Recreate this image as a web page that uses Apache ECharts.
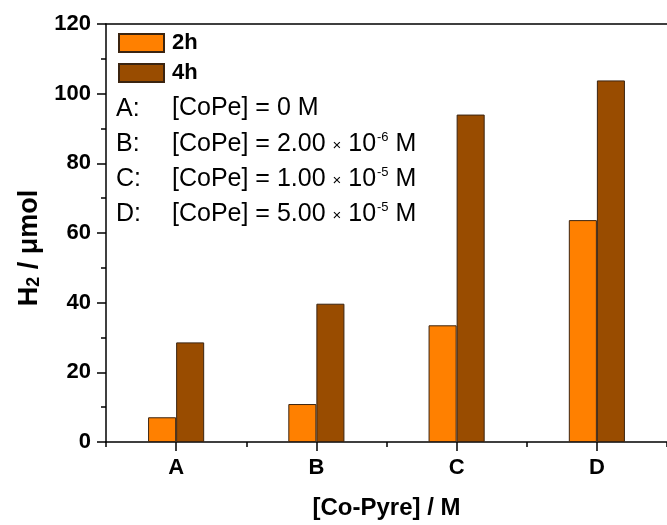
<!DOCTYPE html>
<html><head><meta charset="utf-8">
<script src="https://cdn.jsdelivr.net/npm/echarts@6/dist/echarts.min.js"></script>
<style>html,body{margin:0;padding:0;background:#fff}#c{width:667px;height:525px}</style>
</head><body><div id="c"></div>
<script>
const categories = ['A', 'B', 'C', 'D'];
const series2h = [7.1, 10.9, 33.5, 63.7];
const series4h = [28.6, 39.7, 94.0, 103.8];
const seriesNames = ['2h', '4h'];
const yMin = 0, yMax = 120, yInterval = 20;
const noteLabels = ['A:', 'B:', 'C:', 'D:'];
const noteMantissa = ['0', '2.00', '1.00', '5.00'];
const noteExponent = ['', '-6', '-5', '-5'];

const FONT = 'Liberation Sans, Arial, sans-serif';
const chart = echarts.init(document.getElementById('c'));

const graphics = [];
const lineY = [109, 144, 179, 214];
noteLabels.forEach((lab, i) => {
  graphics.push({
    type: 'text', left: 116, top: lineY[i] - 13,
    style: { text: lab, font: '25px ' + FONT, fill: '#000', lineHeight: 26 }
  });
  const txt = noteExponent[i]
    ? '{n|[CoPe] = ' + noteMantissa[i] + ' }{x|×}{n| 10}{s|' + noteExponent[i] + '}{n| M}'
    : '{n|[CoPe] = ' + noteMantissa[i] + ' M}';
  graphics.push({
    type: 'text', left: 172, top: lineY[i] - 13,
    style: {
      text: txt,
      rich: {
        n: { fontSize: 25, fontFamily: FONT, lineHeight: 26, fill: '#000', color: '#000' },
        x: { fontSize: 15, fontFamily: FONT, lineHeight: 26, fill: '#000', color: '#000', padding: [4, 0, 0, 0] },
        s: { fontSize: 13, fontFamily: FONT, lineHeight: 13, verticalAlign: 'top', fill: '#000', color: '#000', padding: [0, 0, 0, 1] }
      }
    }
  });
});

const axisLine = { show: true, lineStyle: { color: '#000', width: 1.5 } };
const tickStyle = { color: '#000', width: 1.5 };

chart.setOption({
  animation: false,
  backgroundColor: '#fff',
  grid: { left: 106, right: -9, top: 24, bottom: 82, containLabel: false },
  legend: {
    left: 118, top: 32, orient: 'vertical', itemWidth: 45, itemHeight: 18, itemGap: 8,
    padding: 0, icon: 'rect',
    textStyle: { fontSize: 22, fontWeight: 'bold', fontFamily: FONT, color: '#000', lineHeight: 22, padding: [0, 0, 0, 3] },
    data: seriesNames
  },
  xAxis: [
    {
      type: 'category', data: categories, position: 'bottom',
      axisLine: axisLine,
      axisTick: { show: true, alignWithLabel: true, length: 9, lineStyle: tickStyle },
      axisLabel: { margin: 15, fontSize: 22, fontWeight: 'bold', fontFamily: FONT, color: '#000' },
      name: '[Co-Pyre] / M', nameLocation: 'middle', nameGap: 54,
      nameTextStyle: { fontSize: 24, fontWeight: 'bold', fontFamily: FONT, color: '#000' }
    },
    {
      type: 'category', data: categories, position: 'bottom',
      axisLine: { show: false },
      axisTick: { show: true, length: 5, lineStyle: tickStyle },
      axisLabel: { show: false }
    },
    {
      type: 'category', data: categories, position: 'top',
      axisLine: axisLine, axisTick: { show: false }, axisLabel: { show: false }
    }
  ],
  yAxis: {
    type: 'value', min: yMin, max: yMax, interval: yInterval,
    axisLine: axisLine,
    axisTick: { show: true, length: 9, lineStyle: tickStyle },
    minorTick: { show: true, splitNumber: 2, length: 5, lineStyle: tickStyle },
    splitLine: { show: false },
    axisLabel: { margin: 15, fontSize: 22, fontWeight: 'bold', fontFamily: FONT, color: '#000' },
    name: '{b|H}{s|2}{b| / μmol}', nameLocation: 'middle', nameGap: 60, nameRotate: 90,
    nameTextStyle: {
      padding: [0, 30, 0, 0],
      rich: {
        b: { fontSize: 27, fontWeight: 'bold', fontFamily: FONT, color: '#000', lineHeight: 28 },
        s: { fontSize: 18, fontWeight: 'bold', fontFamily: FONT, color: '#000', lineHeight: 28, verticalAlign: 'bottom' }
      }
    }
  },
  series: [
    {
      name: seriesNames[0], type: 'bar', data: series2h, barWidth: '20%', barGap: '0%', xAxisIndex: 0,
      itemStyle: { color: '#FF8000', borderColor: '#3b2410', borderWidth: 1 }
    },
    {
      name: seriesNames[1], type: 'bar', data: series4h, barWidth: '20%', barGap: '0%', xAxisIndex: 0,
      itemStyle: { color: '#994C00', borderColor: '#3b2410', borderWidth: 1 }
    }
  ],
  graphic: graphics
});
</script></body></html>
